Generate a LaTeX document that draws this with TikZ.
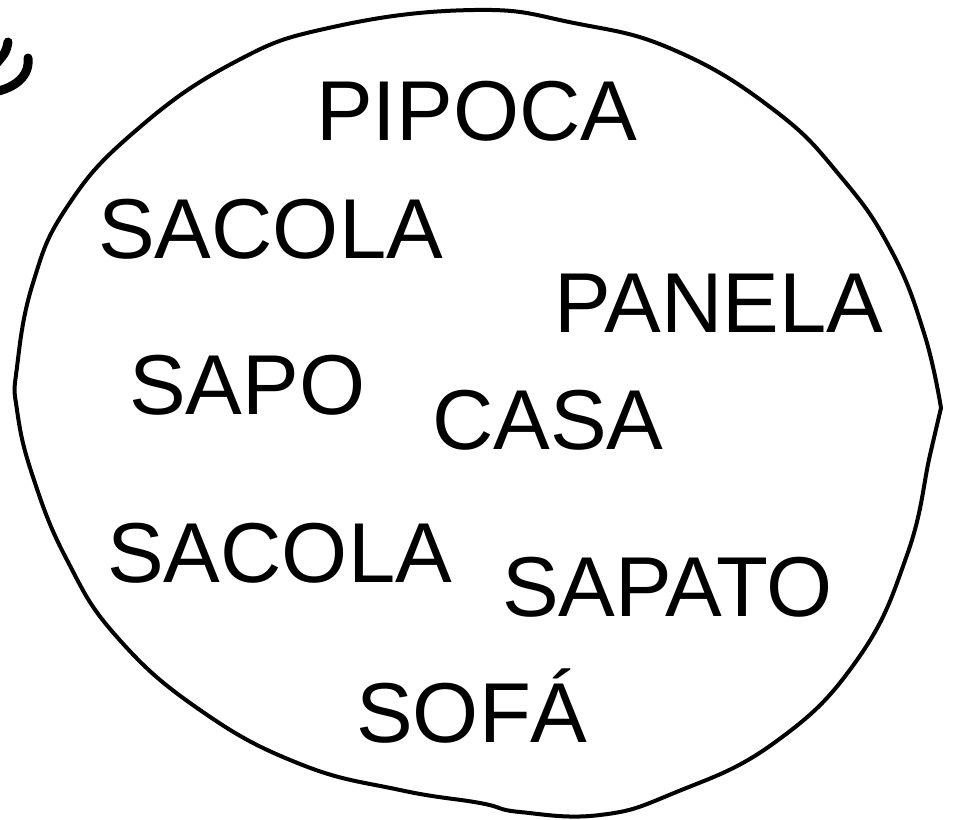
\documentclass[tikz,border=0pt]{standalone}
\usepackage{fontspec}
\setmainfont{Liberation Sans}
\begin{document}
\begin{tikzpicture}[x=1pt,y=-1pt,
  word/.style={anchor=base west,inner sep=0pt,font=\fontsize{85}{85}\selectfont},
  outline/.style={line width=4pt,line join=round,line cap=round},
  glyphstroke/.style={line width=9pt,line cap=round}]
\useasboundingbox (0,0) rectangle (954,820);
% fragment of a letter at the top-left corner
\begin{scope}
  \clip (0,0) rectangle (954,820);
  \draw[glyphstroke] (8,42) .. controls (6,52) .. (-4,64);
  \draw[glyphstroke] (28,58) .. controls (30,76) and (15,88) .. (-6,92);
\end{scope}
% the closed set outline
\draw[outline] plot[smooth,tension=0.75] coordinates {
  (941,408) (930,455) (907,555) (857,660) (774,743) (674,793) (600,815)
  (520,812) (480,803) (400,790) (300,764) (200,710) (117,637) (67,560)
  (33,477) (17,410) (17,367) (33,283) (67,207) (133,133) (233,63)
  (333,27) (474,10) (574,23) (674,50) (774,110) (841,177) (891,250)
  (924,333) (941,408)};
% words
\node[word] (pipoca) at (316,140) {PIPOCA};
\node[word] (sacola1) at (98,258) {SACOLA};
\node[word] (panela) at (554,332) {PANELA};
\node[word] (sapo) at (129,414) {SAPO};
\node[word] (casa) at (432,449) {CASA};
\node[word] (sacola2) at (107,582) {SACOLA};
\node[word] (sapato) at (502,616) {SAPATO};
\node[word] (sofa) at (356,742) {SOFÁ};
\end{tikzpicture}
\end{document}
